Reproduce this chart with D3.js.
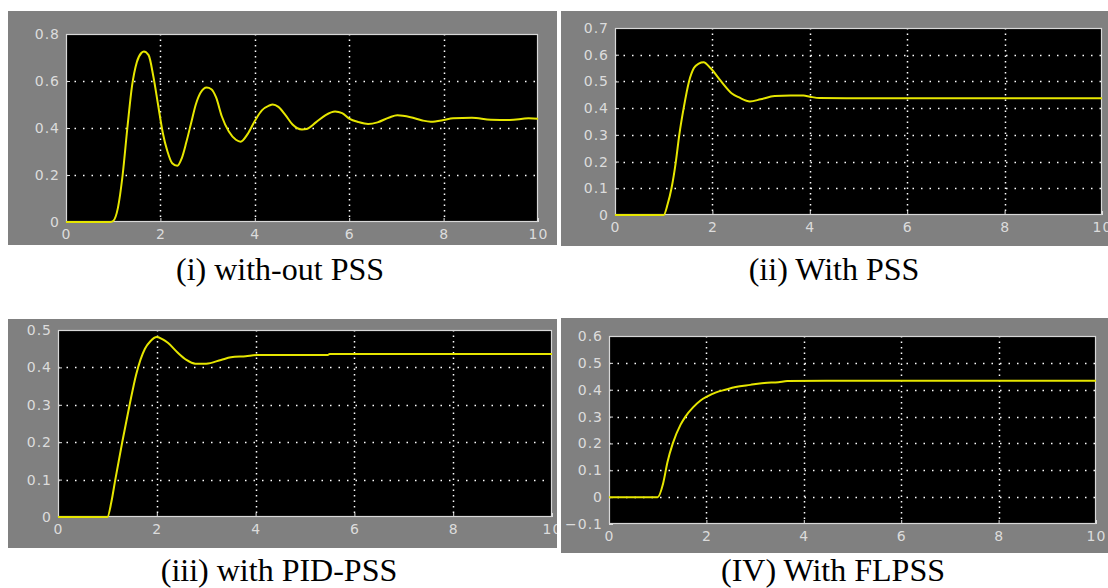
<!DOCTYPE html>
<html>
<head>
<meta charset="utf-8">
<script src="https://cdn.jsdelivr.net/npm/d3@7"></script>
<style>
  body { margin: 0; background: #fff; }
  svg { display: block; }
  .caption { font-family: "Liberation Serif", "Times New Roman", serif; font-size: 32px; fill: #000; }
</style>
</head>
<body>
<svg id="canvas" width="1108" height="588"></svg>
<script>
// time axis is the same for all four scopes
const xTicks = [0, 2, 4, 6, 8, 10];

// (i) without PSS
const time1 = [0, 0.95, 1.0, 1.1, 1.2, 1.3, 1.4, 1.5, 1.6, 1.65, 1.75, 1.85, 1.95, 2.05, 2.15, 2.25, 2.36, 2.45, 2.55, 2.65, 2.75, 2.85, 2.98, 3.08, 3.18, 3.3, 3.45, 3.6, 3.7, 3.85, 4.0, 4.15, 4.3, 4.38, 4.5, 4.65, 4.8, 5.0, 5.1, 5.3, 5.5, 5.7, 5.85, 6.0, 6.2, 6.4, 6.6, 6.85, 7.02, 7.3, 7.55, 7.73, 8.0, 8.2, 8.6, 9.0, 9.4, 9.8, 10];
const value1 = [0, 0, 0.004, 0.06, 0.2, 0.4, 0.58, 0.68, 0.72, 0.726, 0.71, 0.62, 0.5, 0.38, 0.3, 0.25, 0.239, 0.27, 0.34, 0.42, 0.5, 0.55, 0.572, 0.565, 0.53, 0.45, 0.385, 0.35, 0.342, 0.375, 0.43, 0.475, 0.495, 0.5, 0.49, 0.455, 0.415, 0.394, 0.396, 0.425, 0.455, 0.47, 0.463, 0.44, 0.425, 0.417, 0.424, 0.445, 0.454, 0.446, 0.432, 0.427, 0.434, 0.442, 0.444, 0.435, 0.434, 0.441, 0.439];
const yTicks1 = [0, 0.2, 0.4, 0.6, 0.8];

// (ii) with PSS
const time2 = [0, 1.0, 1.08, 1.16, 1.25, 1.32, 1.41, 1.52, 1.62, 1.72, 1.82, 1.96, 2.18, 2.4, 2.55, 2.77, 2.99, 3.28, 3.6, 3.87, 4.0, 4.2, 5, 6, 7, 8, 9, 10];
const value2 = [0, 0, 0.04, 0.1, 0.2, 0.3, 0.4, 0.5, 0.55, 0.567, 0.572, 0.55, 0.5, 0.455, 0.44, 0.425, 0.433, 0.445, 0.447, 0.447, 0.443, 0.438, 0.437, 0.437, 0.437, 0.437, 0.437, 0.437];
const yTicks2 = [0, 0.1, 0.2, 0.3, 0.4, 0.5, 0.6, 0.7];

// (iii) with PID-PSS
const time3 = [0, 1.0, 1.08, 1.16, 1.3, 1.45, 1.58, 1.76, 1.87, 2.0, 2.12, 2.23, 2.42, 2.6, 2.78, 3.0, 3.3, 3.5, 3.8, 4.03, 5.46, 5.5, 7, 8.5, 10];
const value3 = [0, 0, 0.04, 0.1, 0.2, 0.3, 0.38, 0.45, 0.47, 0.481, 0.475, 0.465, 0.44, 0.42, 0.41, 0.41, 0.42, 0.427, 0.43, 0.433, 0.433, 0.436, 0.436, 0.436, 0.436];
const yTicks3 = [0, 0.1, 0.2, 0.3, 0.4, 0.5];

// (IV) with FLPSS
const time4 = [0, 1.0, 1.11, 1.2, 1.31, 1.47, 1.57, 1.73, 1.88, 2.02, 2.2, 2.39, 2.6, 2.9, 3.19, 3.48, 3.66, 4.5, 6, 8, 10];
const value4 = [0, 0, 0.05, 0.13, 0.2, 0.27, 0.3, 0.335, 0.36, 0.375, 0.39, 0.4, 0.41, 0.418, 0.425, 0.428, 0.432, 0.433, 0.433, 0.433, 0.433];
const yTicks4 = [-0.1, 0, 0.1, 0.2, 0.3, 0.4, 0.5, 0.6];

const captions = ['(i) with-out PSS', '(ii) With PSS', '(iii) with PID-PSS', '(IV) With FLPSS'];

const panels = [
  { t: time1, v: value1, yTicks: yTicks1, frame: [8, 11, 557, 245], plot: [66, 34, 538, 222], capX: 280, capY: 280 },
  { t: time2, v: value2, yTicks: yTicks2, frame: [561, 11, 1108, 246], plot: [615, 28, 1102, 215], capX: 834, capY: 280 },
  { t: time3, v: value3, yTicks: yTicks3, frame: [8, 319, 557, 548], plot: [58, 330, 552, 517], capX: 279, capY: 581 },
  { t: time4, v: value4, yTicks: yTicks4, frame: [561, 318, 1108, 553], plot: [609, 336, 1096, 524], capX: 833, capY: 581 }
];

let canvas = d3.select('#canvas');
const fmt = d => d === 0 ? '0' : d3.format('.1f')(d);

const drawScope = (p, i) => {
  let [fx0, fy0, fx1, fy1] = p.frame;
  let [px0, py0, px1, py1] = p.plot;

  canvas.append('clipPath').attr('id', 'frame' + i)
    .append('rect').attr('x', fx0).attr('y', fy0).attr('width', fx1 - fx0).attr('height', fy1 - fy0);
  canvas.append('clipPath').attr('id', 'plot' + i)
    .append('rect').attr('x', px0).attr('y', py0 - 1).attr('width', px1 - px0).attr('height', py1 - py0 + 2);

  let g = canvas.append('g').attr('clip-path', 'url(#frame' + i + ')');

  g.append('rect')
    .attr('x', fx0).attr('y', fy0)
    .attr('width', fx1 - fx0).attr('height', fy1 - fy0)
    .attr('fill', '#808080');

  g.append('rect')
    .attr('x', px0).attr('y', py0)
    .attr('width', px1 - px0).attr('height', py1 - py0)
    .attr('fill', '#000');

  let xScale = d3.scaleLinear().domain([0, 10]).range([px0, px1]);
  let yScale = d3.scaleLinear().domain(d3.extent(p.yTicks)).range([py1, py0]);

  // dotted grid
  g.selectAll('.vgrid')
    .data(xTicks.slice(1, -1))
    .enter()
    .append('line')
    .attr('x1', d => Math.round(xScale(d)) + 0.5).attr('x2', d => Math.round(xScale(d)) + 0.5)
    .attr('y1', py0).attr('y2', py1)
    .attr('stroke', '#fff').attr('stroke-width', 1.5)
    .attr('stroke-dasharray', '1.5,4');

  g.selectAll('.hgrid')
    .data(p.yTicks.slice(1, -1))
    .enter()
    .append('line')
    .attr('x1', px0).attr('x2', px1)
    .attr('y1', d => Math.round(yScale(d)) + 0.5).attr('y2', d => Math.round(yScale(d)) + 0.5)
    .attr('stroke', '#fff').attr('stroke-width', 1.5)
    .attr('stroke-dasharray', '1.5,7');

  // axes with inward ticks
  let xAxis = g.append('g').attr('transform', 'translate(0,' + py1 + ')')
    .call(d3.axisBottom(xScale).tickValues(xTicks).tickSizeInner(-4).tickSizeOuter(0).tickPadding(6).tickFormat(d3.format('d')));
  let yAxis = g.append('g').attr('transform', 'translate(' + px0 + ',0)')
    .call(d3.axisLeft(yScale).tickValues(p.yTicks).tickSizeInner(-4).tickSizeOuter(0).tickPadding(6).tickFormat(fmt));

  [xAxis, yAxis].forEach(ax => {
    ax.select('.domain').remove();
    ax.attr('font-family', 'DejaVu Sans, sans-serif').attr('font-size', 14);
    ax.selectAll('line').attr('stroke', '#e0e0e0');
    ax.selectAll('text')
      .attr('fill', '#dcdcdc')
      .style('letter-spacing', '1px');
  });
  xAxis.selectAll('text').attr('dy', '0.8em');

  // plot frame
  g.append('rect')
    .attr('x', px0 + 0.5).attr('y', py0 + 0.5)
    .attr('width', px1 - px0 - 1).attr('height', py1 - py0 - 1)
    .attr('fill', 'none').attr('stroke', '#d8d8d8').attr('stroke-width', 1.2);

  let line = d3.line()
    .x((d, j) => xScale(p.t[j]))
    .y(d => yScale(d))
    .curve(d3.curveMonotoneX);

  g.append('path')
    .datum(p.v)
    .attr('clip-path', 'url(#plot' + i + ')')
    .attr('d', line)
    .attr('fill', 'none')
    .attr('stroke', '#e6e600')
    .attr('stroke-width', 2);

  canvas.append('text')
    .attr('class', 'caption')
    .attr('x', p.capX).attr('y', p.capY)
    .attr('text-anchor', 'middle')
    .text(captions[i]);
};

panels.forEach(drawScope);
</script>
</body>
</html>
